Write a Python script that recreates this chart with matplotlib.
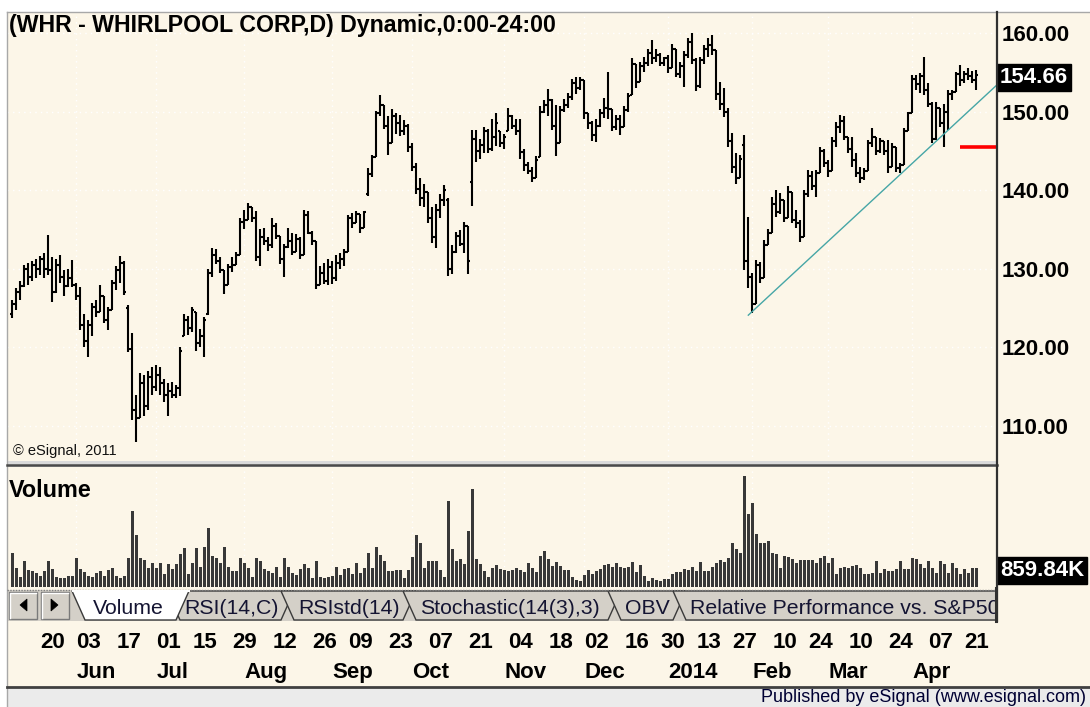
import matplotlib
matplotlib.use("Agg")
import matplotlib.pyplot as plt
import matplotlib.transforms as mtransforms
from matplotlib.collections import LineCollection
from matplotlib.patches import Rectangle, Polygon
from matplotlib.lines import Line2D
import numpy as np

plt.rcParams['font.family'] = ['Liberation Sans', 'DejaVu Sans']

# ---- data ----
first_day = '2013-05-09'
last_day = '2014-04-24'
holidays = ['2013-05-27', '2013-07-04', '2013-09-02', '2013-11-28', '2013-12-25',
            '2014-01-01', '2014-01-20', '2014-02-17', '2014-04-18']

high = [
    126.0, 127.5, 128.4, 130.5, 130.8, 131.0, 131.2, 131.6, 132.0, 134.3,
    131.5, 131.2, 131.8, 129.8, 130.0, 131.1, 128.2, 127.7, 124.3, 123.5,
    125.6, 126.0, 127.9, 126.5, 125.2, 128.6, 130.3, 131.6, 131.0, 125.4,
    121.8, 114.0, 116.7, 116.5, 117.0, 117.5, 117.8, 117.5, 116.0, 115.5,
    115.6, 115.2, 120.0, 124.2, 124.0, 125.1, 124.5, 122.4, 123.9, 130.0,
    132.7, 132.5, 131.5, 129.8, 130.6, 131.5, 132.1, 136.5, 137.5, 138.4,
    137.8, 137.3, 135.0, 135.2, 134.0, 136.5, 135.8, 134.2, 133.1, 135.2,
    134.6, 134.4, 134.0, 137.5, 137.3, 134.8, 133.5, 130.3, 130.8, 131.2,
    131.0, 131.8, 132.0, 132.5, 136.9, 137.1, 137.3, 137.0, 137.4, 142.8,
    144.5, 150.1, 152.1, 150.8, 149.5, 150.3, 149.8, 149.6, 148.9, 148.4,
    146.0, 143.5, 141.5, 140.8, 139.8, 137.8, 138.2, 139.5, 140.7, 139.0,
    133.0, 134.7, 134.9, 136.0, 135.5, 147.6, 147.6, 146.5, 148.0, 147.8,
    149.1, 149.8, 147.5, 147.1, 150.4, 149.6, 149.0, 149.0, 145.3, 143.6,
    142.9, 144.4, 150.7, 151.5, 152.9, 151.6, 150.9, 150.7, 151.6, 152.4,
    154.2, 154.4, 154.4, 154.0, 149.8, 148.8, 149.0, 150.3, 151.7, 155.1,
    150.3, 149.6, 149.6, 150.7, 152.4, 156.8, 156.0, 156.3, 157.0, 157.9,
    159.1, 157.9, 157.4, 157.0, 157.2, 158.6, 158.0, 156.3, 157.7, 159.3,
    160.0, 156.8, 157.0, 158.5, 159.3, 159.8, 157.8, 153.8, 153.0, 150.5,
    147.3, 144.7, 144.5, 147.0, 136.6, 129.5, 131.1, 130.9, 133.7, 135.0,
    139.1, 140.0, 139.6, 138.8, 140.5, 139.8, 137.5, 136.2, 140.0, 142.6,
    142.4, 142.6, 145.5, 145.3, 143.8, 146.8, 148.7, 149.6, 149.4, 146.8,
    146.8, 144.7, 143.0, 142.8, 146.4, 147.9, 146.8, 146.6, 146.2, 146.4,
    146.0, 145.5, 143.5, 147.9, 150.0, 154.7, 154.7, 154.9, 157.0, 153.6,
    151.2, 151.2, 150.5, 151.0, 152.7, 152.8, 155.0, 155.9, 155.2, 155.6,
    155.2, 155.3,
]
low = [
    123.7, 124.8, 126.0, 127.7, 128.0, 128.4, 128.8, 129.2, 128.8, 129.2,
    125.8, 126.9, 128.2, 126.5, 127.7, 127.7, 126.0, 122.2, 120.1, 118.8,
    121.5, 123.9, 124.5, 123.1, 122.2, 124.8, 127.3, 128.2, 126.7, 119.4,
    110.8, 108.0, 111.0, 111.3, 112.0, 114.0, 114.5, 114.0, 113.0, 111.3,
    113.5, 113.5, 113.8, 121.5, 121.6, 122.0, 119.5, 120.0, 118.8, 124.1,
    128.9, 130.6, 129.5, 126.8, 128.0, 129.6, 130.5, 131.8, 135.0, 136.2,
    136.0, 131.0, 130.4, 133.0, 132.3, 132.7, 133.8, 130.6, 128.9, 132.7,
    131.8, 132.2, 131.2, 131.8, 134.4, 133.0, 127.4, 128.0, 128.1, 127.9,
    128.1, 128.5, 130.0, 130.3, 132.1, 135.2, 135.8, 134.6, 135.2, 139.2,
    141.7, 144.2, 149.5, 147.8, 144.5, 146.0, 147.2, 146.9, 147.0, 144.8,
    142.5, 139.5, 138.0, 137.8, 135.8, 133.3, 132.7, 136.5, 138.0, 129.1,
    129.3, 132.0, 132.9, 132.0, 129.3, 138.0, 143.6, 144.0, 144.7, 144.7,
    145.0, 145.6, 145.5, 145.2, 147.5, 147.8, 147.0, 144.0, 142.4, 142.0,
    141.1, 141.5, 144.2, 149.8, 149.5, 147.6, 144.4, 146.0, 150.0, 150.4,
    151.5, 152.2, 152.7, 149.1, 147.8, 146.3, 146.1, 148.0, 149.2, 149.1,
    147.5, 147.7, 147.0, 148.0, 150.0, 152.1, 153.0, 153.8, 155.1, 155.8,
    156.1, 156.3, 155.8, 155.8, 154.9, 155.5, 154.4, 154.3, 153.1, 156.8,
    156.1, 152.6, 153.0, 156.0, 157.0, 157.2, 151.5, 150.2, 149.3, 145.5,
    142.2, 140.8, 141.5, 129.8, 127.6, 124.4, 125.5, 128.2, 128.8, 133.0,
    134.5, 136.6, 137.0, 136.0, 136.5, 135.8, 135.2, 133.4, 134.0, 139.1,
    140.0, 139.1, 142.2, 143.0, 141.7, 142.5, 145.5, 147.3, 146.4, 144.7,
    143.0, 141.7, 140.9, 141.3, 142.5, 145.5, 144.5, 144.7, 144.5, 142.2,
    143.0, 142.3, 142.2, 143.2, 147.5, 149.8, 152.8, 152.4, 152.1, 150.6,
    146.0, 146.4, 148.0, 145.5, 147.7, 151.5, 152.5, 153.3, 153.6, 154.0,
    153.6, 152.7,
]
opn = [
    124.2, 125.5, 127.0, 127.8, 130.0, 129.0, 130.5, 130.0, 131.2, 130.0,
    129.8, 127.0, 130.5, 129.0, 127.8, 128.8, 128.0, 126.5, 122.8, 120.8,
    122.8, 125.2, 124.5, 126.5, 123.5, 124.8, 128.2, 129.8, 130.8, 125.0,
    119.8, 112.0, 111.0, 115.5, 112.5, 116.2, 115.0, 116.5, 115.5, 114.0,
    114.5, 114.0, 114.8, 121.5, 123.5, 122.5, 124.5, 120.5, 121.5, 124.3,
    129.5, 131.8, 131.0, 129.8, 128.0, 130.2, 130.5, 131.8, 136.0, 136.2,
    137.8, 136.5, 131.5, 134.0, 133.5, 133.0, 135.5, 134.2, 131.2, 132.8,
    133.5, 132.2, 133.8, 131.8, 136.8, 134.6, 133.5, 128.0, 129.5, 128.5,
    130.2, 128.8, 130.8, 131.2, 132.2, 136.5, 135.8, 137.0, 135.2, 139.5,
    142.0, 144.2, 149.8, 150.8, 148.2, 146.0, 149.5, 148.5, 147.5, 148.2,
    145.5, 143.0, 140.2, 139.0, 139.8, 136.5, 134.0, 137.5, 138.8, 138.8,
    130.0, 132.2, 134.2, 133.2, 135.5, 141.0, 146.5, 145.0, 145.8, 147.5,
    145.2, 146.8, 147.5, 146.0, 147.5, 149.5, 148.2, 147.5, 144.8, 143.2,
    142.5, 141.6, 144.2, 150.0, 150.8, 151.5, 148.2, 146.0, 150.2, 150.8,
    151.8, 153.6, 153.0, 154.0, 149.8, 148.5, 147.0, 148.2, 149.8, 150.5,
    150.3, 148.0, 149.0, 148.0, 150.2, 152.1, 156.0, 153.8, 155.8, 156.2,
    157.5, 156.8, 157.2, 156.2, 156.8, 155.5, 158.0, 154.8, 155.8, 157.2,
    158.8, 156.5, 153.2, 156.5, 158.0, 158.5, 157.8, 152.2, 151.0, 150.0,
    146.2, 143.0, 141.5, 145.8, 131.0, 129.0, 125.5, 130.5, 128.8, 133.0,
    134.5, 138.2, 137.2, 138.8, 136.5, 139.8, 136.2, 135.8, 134.0, 139.5,
    141.8, 140.5, 142.2, 145.0, 143.5, 142.5, 146.2, 148.0, 148.8, 146.8,
    145.2, 143.8, 142.2, 141.5, 142.5, 146.0, 146.8, 145.0, 146.2, 145.0,
    143.0, 145.5, 142.8, 143.2, 147.5, 149.8, 154.2, 153.5, 154.5, 152.8,
    151.0, 146.5, 150.5, 148.5, 150.0, 152.2, 152.5, 154.8, 154.0, 154.8,
    154.5, 154.0,
]
close = [
    125.5, 127.0, 127.8, 130.0, 129.0, 130.5, 130.0, 131.2, 130.0, 129.8,
    127.0, 130.5, 129.0, 127.8, 128.8, 128.0, 126.5, 122.8, 120.8, 122.8,
    125.2, 124.5, 126.5, 123.5, 124.8, 128.2, 129.8, 130.8, 127.0, 119.8,
    112.0, 111.0, 115.5, 112.5, 116.2, 115.0, 116.5, 115.5, 114.0, 114.5,
    114.0, 114.8, 119.5, 123.5, 122.5, 124.8, 120.5, 121.5, 123.5, 129.5,
    131.8, 131.0, 129.8, 128.0, 130.2, 130.5, 131.8, 136.0, 136.2, 137.8,
    136.5, 131.5, 134.0, 133.5, 133.0, 135.5, 134.2, 131.2, 132.8, 133.5,
    132.2, 133.8, 131.8, 136.8, 134.6, 133.5, 128.0, 129.5, 128.5, 130.2,
    128.8, 130.8, 131.2, 132.2, 136.5, 135.8, 137.0, 135.2, 137.2, 142.0,
    144.2, 149.8, 150.8, 148.2, 146.0, 149.5, 148.5, 147.5, 148.2, 145.5,
    143.0, 140.2, 139.0, 139.8, 136.5, 134.0, 137.5, 138.8, 140.0, 130.0,
    132.2, 134.2, 133.2, 135.5, 131.0, 146.5, 145.0, 145.8, 147.5, 145.2,
    146.8, 148.5, 146.0, 146.8, 149.5, 148.2, 147.5, 144.8, 143.2, 142.5,
    141.6, 143.8, 150.0, 150.8, 151.5, 148.2, 146.0, 150.2, 150.8, 151.8,
    153.6, 153.0, 154.0, 149.8, 148.5, 147.0, 148.2, 149.8, 150.5, 150.3,
    148.0, 149.0, 148.0, 150.2, 152.0, 156.0, 153.8, 155.8, 156.2, 157.5,
    156.8, 157.2, 156.2, 156.8, 155.5, 158.0, 154.8, 155.8, 157.2, 158.8,
    156.5, 153.2, 156.5, 158.0, 158.5, 157.8, 152.2, 151.0, 150.0, 146.2,
    143.0, 141.5, 144.0, 131.0, 129.0, 125.5, 130.5, 128.8, 133.0, 134.5,
    138.2, 137.2, 138.8, 136.5, 139.8, 136.2, 135.8, 134.0, 139.5, 141.8,
    140.5, 142.2, 145.0, 143.5, 142.5, 146.2, 148.0, 148.8, 146.8, 145.2,
    143.8, 142.2, 141.5, 142.5, 146.0, 146.8, 145.0, 146.2, 145.0, 143.0,
    145.5, 142.8, 143.2, 147.5, 149.8, 154.2, 153.5, 154.5, 152.8, 151.0,
    146.5, 150.5, 148.5, 150.0, 152.2, 152.5, 154.8, 154.0, 154.8, 154.5,
    154.0, 154.66,
]
# volume in millions of shares
volume = [
    1.55, 0.87, 0.45, 1.18, 0.75, 0.72, 0.65, 0.50, 0.72, 1.18,
    0.80, 0.45, 0.39, 0.39, 0.50, 0.50, 1.30, 0.80, 0.69, 0.50,
    0.45, 0.65, 0.72, 0.50, 0.75, 0.84, 0.50, 0.42, 0.50, 1.30,
    3.44, 2.35, 1.30, 1.22, 0.84, 1.10, 0.84, 1.10, 0.57, 1.03,
    0.80, 1.03, 1.48, 1.75, 0.57, 1.10, 1.75, 0.90, 1.81, 2.65,
    1.40, 1.30, 1.10, 1.81, 0.90, 0.72, 0.72, 1.30, 1.10, 0.84,
    0.45, 1.30, 1.18, 0.80, 0.72, 0.65, 0.90, 0.45, 1.30, 0.90,
    0.65, 0.54, 0.80, 1.03, 0.84, 0.39, 1.18, 0.45, 0.42, 0.45,
    0.50, 0.90, 0.54, 0.80, 0.84, 0.57, 1.10, 0.65, 0.84, 1.55,
    0.87, 1.81, 1.45, 1.18, 0.72, 0.72, 0.79, 0.76, 0.40, 0.79,
    1.34, 2.34, 1.98, 0.87, 1.19, 1.19, 1.19, 0.79, 0.47, 3.88,
    1.74, 1.19, 1.27, 1.03, 2.53, 4.43, 1.27, 1.03, 0.71, 0.47,
    0.87, 0.98, 0.82, 0.79, 0.71, 0.79, 0.87, 0.79, 0.66, 1.08,
    0.87, 0.66, 1.42, 1.61, 1.27, 0.95, 1.14, 0.95, 0.79, 0.79,
    0.47, 0.32, 0.25, 0.55, 0.79, 0.58, 0.74, 0.82, 0.99, 1.02,
    0.90, 1.07, 0.90, 0.86, 0.90, 1.15, 0.66, 0.99, 0.49, 0.25,
    0.41, 0.33, 0.25, 0.36, 0.36, 0.58, 0.66, 0.66, 0.82, 0.79,
    0.90, 0.74, 1.15, 0.74, 0.74, 0.90, 1.07, 1.23, 1.15, 1.32,
    1.97, 1.73, 1.56, 5.02, 3.29, 3.78, 2.38, 1.97, 1.97, 2.06,
    1.56, 1.48, 0.84, 1.40, 1.36, 1.25, 1.10, 1.21, 1.21, 1.21,
    1.21, 1.10, 1.33, 1.40, 1.10, 1.30, 0.57, 0.84, 0.90, 0.84,
    0.95, 1.00, 0.87, 0.57, 0.57, 0.65, 1.18, 0.65, 0.80, 0.72,
    0.72, 0.80, 1.18, 0.80, 0.80, 1.33, 1.25, 1.03, 0.87, 1.18,
    0.87, 0.65, 1.18, 1.03, 0.65, 1.10, 0.87, 0.57, 0.80, 0.65,
    0.84, 0.85984,
]

tick_days = ['2013-05-20', '2013-06-03', '2013-06-17', '2013-07-01', '2013-07-15',
             '2013-07-29', '2013-08-12', '2013-08-26', '2013-09-09', '2013-09-23',
             '2013-10-07', '2013-10-21', '2013-11-04', '2013-11-18', '2013-12-02',
             '2013-12-16', '2013-12-30', '2014-01-13', '2014-01-27', '2014-02-10',
             '2014-02-24', '2014-03-10', '2014-03-24', '2014-04-07', '2014-04-21']
month_names = ['Jan', 'Feb', 'Mar', 'Apr', 'May', 'Jun', 'Jul', 'Aug', 'Sep', 'Oct', 'Nov', 'Dec']

trend_from = '2014-01-01'        # trendline drawn from the January low
trend_prices = [124.1, 153.4]    # at its start and at the right edge
red_level = 145.5
red_from = '2014-04-17'
last_price = close[-1]
last_volume = volume[-1]

tabs = ['RSI(14,C)', 'RSIstd(14)', 'Stochastic(14(3),3)', 'OBV',
        'Relative Performance vs. S&P500']

# ---- styling ----
CREAM = '#FCF6E8'
GRAYBTN = '#D4D0C8'
W, H = 1090, 707

days = np.arange(np.datetime64(first_day), np.datetime64(last_day) + 1)
days = days[np.is_busday(days, holidays=holidays)]
n = len(days)
assert n == len(high) == len(low) == len(opn) == len(close) == len(volume)
x = np.arange(n)

fig = plt.figure(figsize=(W / 100, H / 100), dpi=100)
fig.patch.set_facecolor('white')


def px(xp, yp):
    return (xp / W, 1 - yp / H)


def fig_rect(x0, y0, x1, y1, **kw):
    fig.add_artist(Rectangle(px(x0, y1), (x1 - x0) / W, (y1 - y0) / H,
                             transform=fig.transFigure, **kw))


def fig_line(xs, ys, **kw):
    fig.add_artist(Line2D([v / W for v in xs], [1 - v / H for v in ys],
                          transform=fig.transFigure, **kw))


def fig_poly(pts, **kw):
    p = Polygon([px(a, b) for a, b in pts], closed=True, transform=fig.transFigure, **kw)
    fig.add_artist(p)
    return p


def axes_box(x0, y0, x1, y1):
    return [x0 / W, 1 - y1 / H, (x1 - x0) / W, (y1 - y0) / H]


# backgrounds
fig_rect(7, 12, 1090, 687, facecolor=CREAM, edgecolor='none', zorder=-10)
fig_rect(7, 687, 1090, 707, facecolor='#EBEBEB', edgecolor='none', zorder=-9)
fig_line([7, 1090], [12, 12], color='#A8A8A8', lw=1)
fig_line([7, 7], [12, 707], color='#A8A8A8', lw=1)

xlim = (-1.325, 246.175)

# ---- price panel ----
ax = fig.add_axes(axes_box(7, 12, 997, 462))
ax.set_facecolor('none')
for s in ax.spines.values():
    s.set_visible(False)
ax.set_xlim(*xlim)
ax.set_ylim(105.42, 162.67)

months = days.astype('datetime64[M]')
month_idx = np.flatnonzero(months[1:] != months[:-1]) + 1
grid_kw = dict(color='white', lw=1.0, ls=(0, (1, 3)), zorder=0.5)
for yv in range(110, 161, 10):
    ax.axhline(yv, **grid_kw)
for mi in month_idx:
    ax.axvline(mi, **grid_kw)

hw = 0.5
segs = [[(xi, l), (xi, h)] for xi, l, h in zip(x, low, high)]
segs += [[(xi - hw, o), (xi, o)] for xi, o in zip(x, opn)]
segs += [[(xi, c), (xi + hw, c)] for xi, c in zip(x, close)]
ax.add_collection(LineCollection(segs, colors='black', linewidths=1.5, capstyle='butt', zorder=3))

t0 = int(np.searchsorted(days, np.datetime64(trend_from)))
low_bar = t0 + int(np.argmin(low[t0:]))
ax.plot([low_bar - 1, xlim[1]], trend_prices, color='#46A6A6', lw=1.0, zorder=4)
red_x = int(np.searchsorted(days, np.datetime64(red_from)))
ax.plot([red_x, xlim[1]], [red_level, red_level], color='#FF0000', lw=2.6, zorder=4,
        solid_capstyle='butt')

ax.set_xticks([])
ax.yaxis.tick_right()
ax.set_yticks(range(110, 161, 10))
ax.set_yticklabels([f'{v:.2f}' for v in range(110, 161, 10)])
ax.tick_params(axis='y', length=0, pad=3, labelsize=16, colors='black')
for lbl in ax.get_yticklabels():
    lbl.set_fontweight('bold')

ax.text(2 / 990, 1 - 20 / 450, '(WHR - WHIRLPOOL CORP,D) Dynamic,0:00-24:00',
        transform=ax.transAxes, fontsize=16.7, fontweight='bold', ha='left',
        va='baseline', color='black')
ax.text(6 / 990, 11 / 450, '\u00a9 eSignal, 2011', transform=ax.transAxes,
        fontsize=10.5, ha='left', va='center', color='#111111')

tr_p = mtransforms.blended_transform_factory(fig.transFigure, ax.transData)
ax.text(1000 / W, last_price, f'{last_price:.2f}', transform=tr_p, fontsize=16,
        fontweight='bold', color='white', ha='left', va='center_baseline',
        bbox=dict(boxstyle='square,pad=0.12', facecolor='black', edgecolor='black'))

# separator between panels
fig_rect(7, 461, 997, 467, facecolor='#DADADA', edgecolor='none')
fig_line([7, 997], [464.5, 464.5], color='#4A4A4A', lw=1.8)

# ---- volume panel ----
av = fig.add_axes(axes_box(7, 467, 997, 589))
av.set_facecolor('none')
for s in av.spines.values():
    s.set_visible(False)
av.set_xlim(*xlim)
av.set_ylim(-0.09, 5.43)
av.set_xticks([])
av.set_yticks([])
for mi in month_idx:
    av.axvline(mi, **grid_kw)
av.bar(x, volume, width=0.62, color='#383838', linewidth=0, zorder=3)
av.text(2 / 990, 1 - 21 / 122, 'Volume', transform=av.transAxes, fontsize=16.8,
        fontweight='bold', ha='left', va='center_baseline', color='black')
tr_v = mtransforms.blended_transform_factory(fig.transFigure, av.transData)
av.text(1000 / W, last_volume, f'{last_volume * 1000:.2f}K', transform=tr_v, fontsize=16,
        fontweight='bold', color='white', ha='left', va='center_baseline',
        bbox=dict(boxstyle='square,pad=0.12', facecolor='black', edgecolor='black'))

# right axis line
fig_line([997, 997], [12, 621], color='#303030', lw=1.6)

# ---- tab bar ----
fig_rect(7, 590, 997, 621, facecolor=GRAYBTN, edgecolor='none')
fig_line([7, 997], [590, 590], color='#808080', lw=1, ls=(0, (1, 1)))
for bx in (9, 41):
    fig_rect(bx, 592, bx + 28, 619, facecolor=GRAYBTN, edgecolor='#7A7A7A', lw=1)
    fig_line([bx + 1, bx + 1, bx + 27], [618, 593, 593], color='white', lw=1)
fig_poly([(27, 599), (27, 611), (20, 605)], facecolor='black', edgecolor='black', lw=0.5)
fig_poly([(51, 599), (51, 611), (58, 605)], facecolor='black', edgecolor='black', lw=0.5)

tab_edges = [(167, 294), (281, 416), (403, 621), (608, 686), (673, 1010)]
slant = 13
clip = Rectangle(px(7, 621), (995 - 7) / W, 31 / H, transform=fig.transFigure)
for (a, b), name in zip(tab_edges, tabs):
    p = fig_poly([(a, 591), (a + slant, 620), (b - slant, 620), (b, 591)],
                 facecolor=GRAYBTN, edgecolor='#3A3A3A', lw=1)
    p.set_clip_path(clip)
    t = fig.text((a + 17) / W, 1 - 606 / H, name, fontsize=15.3, ha='left',
                 va='center_baseline', color='#141432')
    t.set_clip_path(clip)
fig_poly([(72, 591), (72 + slant, 620), (189 - slant, 620), (189, 591)],
         facecolor='white', edgecolor='#3A3A3A', lw=1)
fig_line([72.5, 188.5], [591, 591], color='white', lw=1.5)
fig.text(93 / W, 1 - 606 / H, 'Volume', fontsize=15.3, ha='left', va='center_baseline',
         color='#141432')
fig_line([996, 996], [588, 621], color='#303030', lw=2.2)

# ---- date axis ----
tr_d = mtransforms.blended_transform_factory(ax.transData, fig.transFigure)
for d in tick_days:
    i = int(np.searchsorted(days, np.datetime64(d)))
    ax.text(i, 1 - 648 / H, d[-2:], transform=tr_d, fontsize=16, fontweight='bold',
            ha='left', va='baseline', color='black', clip_on=False)
for mi in month_idx:
    m = months[mi].astype(int) % 12
    lab = str(days[mi].astype('datetime64[Y]')) if m == 0 else month_names[m]
    ax.text(mi, 1 - 678 / H, lab, transform=tr_d, fontsize=16, fontweight='bold',
            ha='left', va='baseline', color='black', clip_on=False)

fig_line([7, 1090], [687, 687], color='#404040', lw=2)
fig.text(1086 / W, 1 - 696 / H, 'Published by eSignal (www.esignal.com)', fontsize=13,
         ha='right', va='center_baseline', color='#000033')

fig.savefig('out.png', dpi=100, facecolor=fig.get_facecolor())
